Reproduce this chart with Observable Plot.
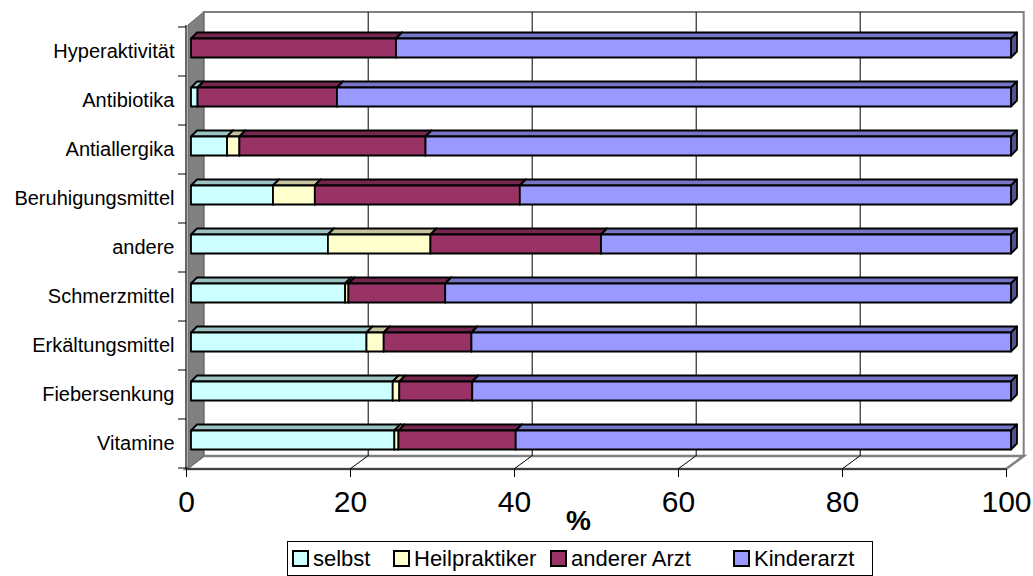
<!DOCTYPE html>
<html>
<head>
<meta charset="utf-8">
<script src="https://cdn.jsdelivr.net/npm/d3@7"></script>
<script src="https://cdn.jsdelivr.net/npm/@observablehq/plot@0.6"></script>
<style>
  body { margin: 0; background: #fff; font-family: "Liberation Sans", Arial, sans-serif; }
  #wrap { position: relative; width: 1033px; height: 576px; overflow: hidden; }
  #legend { position: absolute; left: 287px; top: 541px; width: 586px; height: 35px; border: 1px solid #000; box-sizing: border-box; background: #fff; }
  .item { position: absolute; top: 0; height: 100%; display: flex; align-items: center; font-size: 22px; color: #000; white-space: nowrap; }
  .sw { width: 13px; height: 13px; border: 2px solid #000; margin-right: 4px; }
</style>
</head>
<body>
<div id="wrap"><div id="chart"></div><div id="legend"></div></div>
<script>
// ---- data ----
const categories = ["Hyperaktivität", "Antibiotika", "Antiallergika", "Beruhigungsmittel", "andere",
                    "Schmerzmittel", "Erkältungsmittel", "Fiebersenkung", "Vitamine"];
const series = ["selbst", "Heilpraktiker", "anderer Arzt", "Kinderarzt"];
const selbst        = [0,    0.8,  4.4, 10.0, 16.7, 18.8, 21.4, 24.6, 24.8];
const heilpraktiker = [0,    0,    1.5,  5.1, 12.5,  0.4,  2.1,  0.8,  0.5];
const andererArzt   = [25.0, 17.0, 22.7, 25.0, 20.8, 11.8, 10.7,  8.9, 14.3];
const kinderarzt    = [75.0, 82.2, 71.4, 59.9, 50.0, 69.0, 65.8, 65.7, 60.4];
const colors = ["#CCFFFF", "#FFFFCC", "#993366", "#9999FF"];
const xTicks = [0, 20, 40, 60, 80, 100];
const gridTicks = [20, 40, 60, 80];
const legendLeft = [4, 105, 262, 445];

// ---- table for Plot ----
const seriesValues = [selbst, heilpraktiker, andererArzt, kinderarzt];
const table = [];
series.forEach((s, j) => categories.forEach((c, i) => table.push({category: c, series: s, value: seriesValues[j][i]})));

const W = 1033, H = 538;
const mL = 186, mR = 27, mT = 25, mB = H - 469;
const BX = 17.7, BY = -13;   // wall depth
const D = 6;                 // bar depth
const NS = "http://www.w3.org/2000/svg";

function walls(index, scales, values, dims) {
  const x = scales.x;
  const x0 = x(0), x1 = x(100);
  const yT = dims.marginTop, yB = dims.height - dims.marginBottom;
  const g = d3.create("svg:g");
  // back wall
  g.append("path").attr("d", `M${x0+BX},${yT+BY}H${x1+BX}V${yB+BY}H${x0+BX}Z`)
    .attr("fill", "#fff").attr("stroke", "#808080").attr("stroke-width", 2);
  // floor
  g.append("path").attr("d", `M${x0},${yB}L${x0+BX},${yB+BY}H${x1+BX}L${x1},${yB}Z`)
    .attr("fill", "#fff").attr("stroke", "#808080").attr("stroke-width", 2.5);
  // side wall
  g.append("path").attr("d", `M${x0+2},${yT}L${x0+BX},${yT+BY}V${yB+BY}L${x0+2},${yB}Z`)
    .attr("fill", "#808080").attr("stroke", "#666").attr("stroke-width", 1);
  // floor grid slants
  for (const v of gridTicks) {
    g.append("line").attr("x1", x(v)).attr("y1", yB).attr("x2", x(v) + BX).attr("y2", yB + BY)
      .attr("stroke", "#000").attr("stroke-width", 1);
  }
  // category boundary ticks
  const y = scales.y;
  let bounds = [];
  if (y && typeof y.bandwidth === "function" && categories.length > 1) {
    const step = y(categories[1]) - y(categories[0]);
    const bw = y.bandwidth();
    bounds = categories.map(c => y(c) + bw / 2 - step / 2);
    bounds.push(y(categories[categories.length - 1]) + bw / 2 + step / 2);
  } else {
    const n = categories.length;
    for (let k = 0; k <= n; k++) bounds.push(yT + k * (yB - yT) / n);
  }
  for (const b of bounds) {
    g.append("line").attr("x1", x0 - 8).attr("x2", x0).attr("y1", b).attr("y2", b)
      .attr("stroke", "#000").attr("stroke-width", 1);
  }
  return g.node();
}

function axisLines(index, scales, values, dims) {
  const x = scales.x;
  const x0 = x(0), x1 = x(100);
  const yT = dims.marginTop, yB = dims.height - dims.marginBottom;
  const g = d3.create("svg:g").attr("stroke", "#000").attr("stroke-width", 1.2);
  g.append("line").attr("x1", x0).attr("x2", x0).attr("y1", yT).attr("y2", yB);
  g.append("line").attr("x1", x0).attr("x2", x1).attr("y1", yB).attr("y2", yB);
  return g.node();
}

function bar3d(index, scales, values, dims, context, next) {
  const g = next(index, scales, values, dims, context);
  const rects = Array.from(g.querySelectorAll("rect"));
  const faces = document.createElementNS(NS, "g");
  for (const r of rects) {
    const x = +r.getAttribute("x"), y = +r.getAttribute("y");
    const w = +r.getAttribute("width"), h = +r.getAttribute("height");
    if (!(w > 0.3)) { r.remove(); continue; }
    const f = r.getAttribute("fill") || "#999";
    const top = document.createElementNS(NS, "path");
    top.setAttribute("d", `M${x},${y}L${x+D},${y-D}H${x+w+D}L${x+w},${y}Z`);
    top.setAttribute("fill", d3.color(f).darker(0.75).formatHex());
    const side = document.createElementNS(NS, "path");
    side.setAttribute("d", `M${x+w},${y}L${x+w+D},${y-D}V${y+h-D}L${x+w},${y+h}Z`);
    side.setAttribute("fill", d3.color(f).darker(1.7).formatHex());
    faces.append(top, side);
  }
  g.insertBefore(faces, g.firstChild);
  return g;
}

const chart = Plot.plot({
  width: W, height: H,
  marginLeft: mL, marginRight: mR, marginTop: mT, marginBottom: mB,
  style: {fontFamily: "'Liberation Sans', Arial, sans-serif", background: "white", color: "black", overflow: "visible"},
  x: {domain: [0, 100]},
  y: {domain: categories, paddingInner: 0.615, paddingOuter: 0.3075, align: 0.5},
  color: {domain: series, range: colors},
  marks: [
    walls,
    Plot.ruleX(gridTicks, {dx: BX, dy: BY, stroke: "#000", strokeWidth: 1}),
    Plot.barX(table, Plot.stackX({
      x: "value", y: "category", fill: "series",
      stroke: "#000", strokeWidth: 1.8, strokeLinejoin: "round",
      dx: 5, dy: -3.5, render: bar3d
    })),
    axisLines,
    Plot.axisX({ticks: xTicks, tickSize: 8, tickPadding: 13, fontSize: 30, label: null, tickFormat: d => String(d)}),
    Plot.axisY({tickSize: 0, tickPadding: 12, fontSize: 20, label: null}),
    Plot.text(["%"], {text: d => d, frameAnchor: "bottom", dx: -18, dy: 60, fontSize: 28, fontWeight: "bold"})
  ]
});
document.getElementById("chart").appendChild(chart);

// ---- legend ----
const legend = document.getElementById("legend");
series.forEach((s, i) => {
  const item = document.createElement("div");
  item.className = "item";
  item.style.left = legendLeft[i] + "px";
  const sw = document.createElement("span");
  sw.className = "sw";
  sw.style.background = colors[i];
  const t = document.createElement("span");
  t.textContent = s;
  item.append(sw, t);
  legend.appendChild(item);
});
</script>
</body>
</html>
